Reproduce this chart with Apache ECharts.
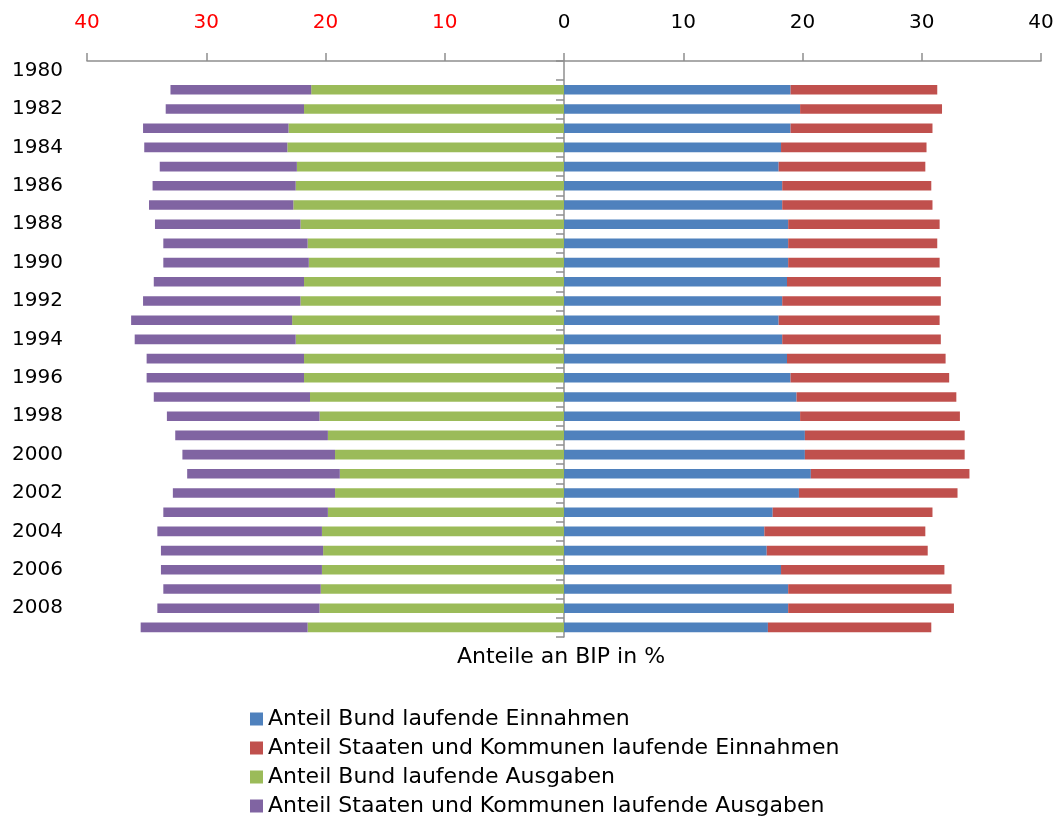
<!DOCTYPE html>
<html>
<head>
<meta charset="utf-8">
<title>Anteile an BIP</title>
<script src="https://cdn.jsdelivr.net/npm/echarts@6/dist/echarts.min.js"></script>
<style>
  html, body { margin: 0; padding: 0; background: #fff; }
  #chart { width: 1060px; height: 823px; }
</style>
</head>
<body>
<div id="chart"></div>
<script>
// Jahre 1980..2009, 1980 ohne Werte
const years = []
for (let y = 1980; y <= 2009; y++) years.push(String(y))

const xTicks = [-40, -30, -20, -10, 0, 10, 20, 30, 40]

// Anteile an BIP in % (1981..2009)
const bundEinnahmen = [19.0, 19.8, 19.0, 18.2, 18.0, 18.3, 18.3, 18.8, 18.8, 18.8, 18.7, 18.3, 18.0, 18.3, 18.7,
  19.0, 19.5, 19.8, 20.2, 20.2, 20.7, 19.7, 17.5, 16.8, 17.0, 18.2, 18.8, 18.8, 17.1]
const staatenEinnahmen = [12.3, 11.9, 11.9, 12.2, 12.3, 12.5, 12.6, 12.7, 12.5, 12.7, 12.9, 13.3, 13.5, 13.3, 13.3,
  13.3, 13.4, 13.4, 13.4, 13.4, 13.3, 13.3, 13.4, 13.5, 13.5, 13.7, 13.7, 13.9, 13.7]
const bundAusgaben = [21.2, 21.8, 23.1, 23.2, 22.4, 22.5, 22.7, 22.1, 21.5, 21.4, 21.8, 22.1, 22.8, 22.5, 21.8,
  21.8, 21.3, 20.5, 19.8, 19.2, 18.8, 19.2, 19.8, 20.3, 20.2, 20.3, 20.4, 20.5, 21.5]
const staatenAusgaben = [11.8, 11.6, 12.2, 12.0, 11.5, 12.0, 12.1, 12.2, 12.1, 12.2, 12.6, 13.2, 13.5, 13.5, 13.2,
  13.2, 13.1, 12.8, 12.8, 12.8, 12.8, 13.6, 13.8, 13.8, 13.6, 13.5, 13.2, 13.6, 14.0]

const seriesNames = [
  'Anteil Bund laufende Einnahmen',
  'Anteil Staaten und Kommunen laufende Einnahmen',
  'Anteil Bund laufende Ausgaben',
  'Anteil Staaten und Kommunen laufende Ausgaben'
]
const colors = ['#4F81BD', '#C0504D', '#9BBB59', '#8064A2']

const font = "'DejaVu Sans', 'Liberation Sans', Arial, sans-serif"
const axisColor = '#8f8f8f'

// 1980 leer lassen, Ausgaben nach links (negativ)
function withGap(arr, sign) {
  return [null].concat(arr.map(v => sign * v))
}

const chart = echarts.init(document.getElementById('chart'))

chart.setOption({
  animation: false,
  textStyle: { fontFamily: font },
  title: {
    text: 'Anteile an BIP in %',
    left: 561,
    top: 646,
    padding: 0,
    textAlign: 'center',
    textStyle: { fontFamily: font, fontSize: 22, fontWeight: 'normal', color: '#000' }
  },
  legend: {
    data: seriesNames,
    orient: 'vertical',
    left: 250,
    top: 708,
    padding: 0,
    height: 115,
    icon: 'rect',
    itemWidth: 13,
    itemHeight: 13,
    itemGap: 7,
    selectedMode: false,
    textStyle: { fontFamily: font, fontSize: 22, color: '#000' }
  },
  grid: {
    top: 61,
    bottom: 186,
    left: 87,
    right: 19
  },
  xAxis: {
    type: 'value',
    position: 'top',
    min: xTicks[0],
    max: xTicks[xTicks.length - 1],
    interval: 10,
    axisLine: { show: true, lineStyle: { color: axisColor, width: 1.5 } },
    axisTick: { show: true, length: 8, lineStyle: { color: axisColor, width: 1.5 } },
    splitLine: { show: false },
    axisLabel: {
      margin: 28,
      fontFamily: font,
      fontSize: 20,
      formatter: v => String(Math.abs(v)),
      color: v => (v < 0 ? '#FF0000' : '#000')
    }
  },
  yAxis: [{
    type: 'category',
    data: years,
    inverse: true,
    axisLine: { show: false, onZero: false },
    axisTick: { show: false },
    axisLabel: {
      interval: 1,
      margin: 24,
      fontFamily: font,
      fontSize: 20,
      color: '#000'
    }
  }, {
    type: 'category',
    data: years,
    inverse: true,
    position: 'left',
    axisLine: { show: true, onZero: true, lineStyle: { color: axisColor, width: 1.5 } },
    axisTick: { show: true, interval: 0, length: 8, lineStyle: { color: axisColor, width: 1.5 } },
    axisLabel: { show: false }
  }],
  series: [{
    name: seriesNames[0],
    type: 'bar',
    stack: 'einnahmen',
    barWidth: '50%',
    itemStyle: { color: colors[0] },
    data: withGap(bundEinnahmen, 1)
  }, {
    name: seriesNames[1],
    type: 'bar',
    stack: 'einnahmen',
    barWidth: '50%',
    itemStyle: { color: colors[1] },
    data: withGap(staatenEinnahmen, 1)
  }, {
    name: seriesNames[2],
    type: 'bar',
    stack: 'ausgaben',
    barWidth: '50%',
    barGap: '-100%',
    itemStyle: { color: colors[2] },
    data: withGap(bundAusgaben, -1)
  }, {
    name: seriesNames[3],
    type: 'bar',
    stack: 'ausgaben',
    barWidth: '50%',
    barGap: '-100%',
    itemStyle: { color: colors[3] },
    data: withGap(staatenAusgaben, -1)
  }]
})
</script>
</body>
</html>
